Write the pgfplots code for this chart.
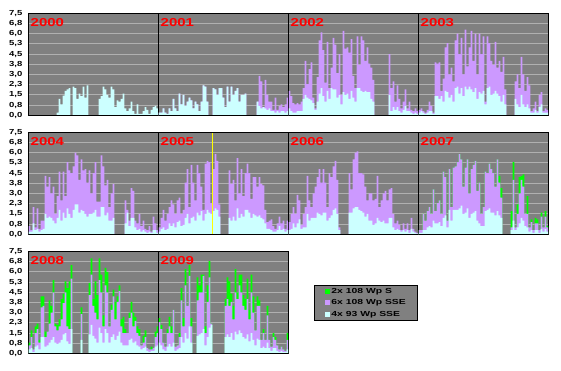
\documentclass[border=0pt]{standalone}
\usepackage{pgfplots}
\pgfplotsset{compat=1.18}
\usepackage{pgfplotstable}
\usepackage{fontspec}
\setmainfont{Liberation Sans}
\newfontfamily\tickfont[FakeStretch=1.3]{Liberation Sans}
\newfontfamily\legfont[FakeStretch=1.42]{Liberation Sans}
\newfontfamily\yearfont[FakeStretch=1.3]{Liberation Sans}

\definecolor{bggray}{HTML}{808080}
\definecolor{gridgray}{HTML}{B0B0B0}
\definecolor{cyanbar}{HTML}{CCFFFF}
\definecolor{lilac}{HTML}{CC99FF}
\definecolor{greenbar}{HTML}{00FF00}
\definecolor{yearred}{HTML}{FF0000}
\definecolor{yel}{HTML}{FFFF00}

\pgfplotsset{
  panel/.style={
    scale only axis, width=130pt, height=102pt, anchor=north west,
    xmin=0, xmax=65, ymin=0, ymax=7.5,
    ytick={0,0.75,1.5,2.25,3,3.75,4.5,5.25,6,6.75,7.5},
    yticklabels={}, xtick=\empty,
    ymajorgrids, grid style={gridgray, line width=1pt},
    axis background/.style={fill=bggray},
    axis line style={black, line width=1pt},
    major tick length=0pt,
  },
  ylabels/.style={
    yticklabels={{0,0},{0,8},{1,5},{2,3},{3,0},{3,8},{4,5},{5,3},{6,0},{6,8},{7,5}},
    yticklabel style={font=\tickfont\bfseries\fontsize{7.3}{8}\selectfont, inner sep=0pt, xshift=-6pt},
  },
  sq/.style={legend image code/.code={\fill[##1, draw=none] (0pt,-2.5pt) rectangle (5pt,2.5pt);}},
  cbar/.style={ybar, bar width=1.7pt, bar shift=0pt, fill=cyanbar, draw=none, sq},
  lbar/.style={ybar, bar width=1.7pt, bar shift=0pt, fill=lilac, draw=none, sq},
  gbar/.style={ybar, bar width=1.7pt, bar shift=0pt, fill=greenbar, draw=none, sq},
}
\tikzset{year/.style={anchor=base west, inner sep=0pt, text=yearred,
  font=\yearfont\bfseries\fontsize{11.5}{12}\selectfont, xshift=2pt, yshift=-13.4pt},
  frame/.style={draw=black, line width=1pt}}

\pgfplotstableread[row sep=\\]{c\\
0\\0\\0\\0\\0\\0\\0\\0\\0\\0\\0\\0\\0\\0\\
0.2\\1.2\\0.8\\1.45\\1.8\\1.9\\2.0\\0\\2.1\\2.0\\1.2\\1.6\\1.4\\2.1\\1.3\\2.2\\
0\\0\\0\\0\\0\\1.2\\1.4\\2.1\\1.9\\1.5\\1.3\\2.1\\1.9\\0.6\\1.1\\1.0\\1.2\\1.6\\
0.5\\0.3\\0.5\\1.0\\0.3\\0.1\\0.8\\0.1\\0.1\\0.3\\0.6\\0.4\\0.1\\0.4\\0.6\\0.7\\0.5\\
}\Tzero

\pgfplotstableread[row sep=\\]{c l\\
0.2 0.2\\0.2 0.2\\0.5 0.5\\0.2 0.2\\0.1 0.1\\0.5 0.5\\0.3 0.3\\1.2 1.2\\0.5 0.5\\0.3 0.3\\
1.6 1.6\\0.8 0.8\\1.5 1.5\\0.7 0.7\\1.0 1.0\\1.3 1.3\\1.1 1.1\\0.5 0.5\\1.0 1.0\\0.8 0.8\\
0.3 0.3\\1.0 1.0\\2.2 2.2\\2.1 2.1\\1.0 1.0\\0 0\\0 0\\2.0 2.0\\1.9 1.9\\1.5 1.5\\
2.0 2.0\\2.0 2.0\\1.3 1.3\\0.6 0.6\\2.1 2.1\\1.0 1.0\\2.1 2.1\\1.5 1.5\\1.8 1.8\\2.0 2.0\\
1.0 1.0\\1.5 1.5\\1.5 1.5\\1.6 1.6\\0 0\\0 0\\0 0\\0 0\\0 0\\1.0 1.0\\
0.7 2.9\\0.5 2.5\\0.6 0.6\\0.5 2.6\\0.4 1.5\\0.5 1.0\\0.3 1.0\\0.3 0.4\\0.2 1.3\\0.3 0.4\\
0.2 0.7\\0.3 0.8\\0.3 0.6\\0.2 0.8\\0.3 1.3\\
}\Tone

\pgfplotstableread[row sep=\\]{c l\\
0.5 1.8\\0.3 1.4\\0.2 0.9\\0.2 0.8\\0.3 0.9\\0.3 0.8\\0.3 1.0\\1.2 2.0\\1.5 4.0\\1.3 2.3\\
1.2 3.4\\1.1 3.9\\0.9 1.3\\0.4 0.5\\1.0 2.8\\1.6 5.5\\2.0 6.1\\1.4 4.8\\1.0 2.4\\1.8 5.4\\
1.2 2.0\\2.0 3.5\\1.9 5.7\\1.9 5.2\\1.3 3.1\\1.5 4.5\\0.8 1.5\\1.7 6.2\\1.5 4.9\\1.6 5.0\\
1.2 4.6\\1.8 5.6\\1.3 2.9\\1.0 2.0\\2.0 5.8\\2.0 3.7\\1.8 5.8\\1.7 5.5\\1.8 4.0\\1.7 5.0\\
1.7 3.8\\1.2 3.5\\1.0 2.6\\0 0\\0 0\\0 0\\0 0\\0 0\\0 0\\0 0\\
1.5 4.5\\0.3 2.0\\0.6 2.5\\0.4 1.0\\0.6 2.2\\0.3 1.2\\0.2 0.5\\0.4 1.0\\0.7 1.9\\0.3 0.5\\
0.3 1.0\\0.2 0.4\\0.1 0.3\\0.2 0.5\\0.1 0.3\\
}\Ttwo

\pgfplotstableread[row sep=\\]{c l\\
0.2 0.4\\0.3 0.5\\0.2 0.3\\0.1 0.2\\0.2 0.4\\0.3 1.0\\0.3 0.7\\0.1 0.2\\1.4 3.9\\1.4 3.8\\
1.2 3.9\\1.4 1.8\\1.0 2.7\\1.8 5.0\\1.7 5.3\\1.3 3.0\\1.5 3.5\\1.0 2.5\\2.0 5.5\\2.1 6.0\\
1.6 4.5\\2.0 5.7\\1.4 3.0\\2.1 6.3\\1.9 3.6\\2.1 5.0\\1.9 6.2\\1.7 4.0\\2.0 6.0\\1.2 3.0\\
1.7 6.0\\1.6 4.5\\1.8 5.8\\0.8 1.0\\2.0 5.8\\2.1 5.3\\1.5 4.0\\1.6 3.7\\1.8 5.4\\1.6 3.5\\
1.4 4.0\\1.0 3.2\\1.5 4.3\\0.8 1.9\\0 0\\0 0\\0 0\\0 0\\1.2 2.5\\0.8 3.0\\
0.6 2.0\\1.5 4.3\\0.8 3.0\\0.6 1.8\\0.8 2.8\\0.5 2.2\\0.2 0.3\\0.2 0.5\\0.4 1.0\\0.2 0.3\\
0.6 1.5\\0.8 1.7\\0.2 0.3\\0.2 0.5\\0.2 0.4\\
}\Tthree

\pgfplotstableread[row sep=\\]{c l\\
0.2 0.6\\0.2 0.3\\0.8 2.0\\0.3 0.5\\0.4 1.9\\0.2 0.4\\0.3 1.0\\0.4 1.0\\1.5 4.3\\1.2 3.5\\
1.3 4.2\\1.2 3.0\\1.0 3.5\\0.8 1.5\\1.2 2.8\\1.8 4.6\\1.0 2.5\\1.6 4.6\\1.2 2.8\\1.9 5.3\\
1.5 4.7\\1.2 4.5\\1.8 5.0\\2.2 6.0\\2.2 5.8\\1.6 4.0\\1.8 5.5\\1.7 4.7\\1.5 4.8\\1.3 3.8\\
1.5 4.7\\1.5 3.0\\1.6 4.5\\1.8 5.3\\1.3 2.4\\1.3 2.4\\2.0 5.8\\2.0 5.0\\1.4 3.6\\1.6 4.0\\
1.0 2.0\\1.0 3.0\\1.2 3.7\\0 0\\0 0\\0 0\\0 0\\0 0\\0.8 2.5\\1.6 1.8\\
0.6 1.0\\1.2 3.4\\1.2 3.2\\0.5 1.0\\0.3 0.8\\0.4 1.5\\0.2 0.6\\0.3 1.0\\0.2 0.4\\0.1 0.3\\
0.2 0.6\\0.1 0.2\\0.3 1.3\\0.3 0.8\\0.1 0.3\\
}\Tfour

\pgfplotstableread[row sep=\\]{c l\\
0.2 0.5\\0.4 1.2\\0.5 1.8\\0.3 1.0\\0.4 1.5\\0.8 2.0\\0.6 2.5\\0.8 2.2\\0.5 1.5\\0.9 2.5\\
1.0 2.7\\0.6 1.5\\0.7 1.8\\1.2 3.8\\1.5 4.8\\0.8 2.0\\1.2 5.1\\1.3 3.8\\1.0 2.5\\1.6 5.1\\
1.4 4.5\\1.7 3.5\\1.0 1.8\\1.5 5.2\\1.8 5.4\\1.6 5.3\\1.5 2.3\\1.7 4.8\\1.9 5.9\\1.8 5.4\\
1.3 2.2\\0 0\\0 0\\0 0\\0 0\\1.2 4.7\\1.0 3.7\\1.3 4.0\\1.0 2.5\\1.9 5.6\\
1.2 3.0\\1.5 4.8\\1.3 2.8\\1.8 4.5\\1.8 5.2\\1.6 4.5\\1.2 2.6\\1.5 4.2\\1.4 4.2\\1.3 3.5\\
1.4 4.2\\1.2 3.7\\1.1 3.6\\0.8 1.8\\0.4 0.9\\0.4 1.0\\0.3 1.1\\0.2 0.6\\0.2 0.4\\0.3 0.8\\
0.6 1.3\\0.3 0.8\\0.4 1.0\\0.2 0.4\\0.3 1.0\\
}\Tfive

\pgfplotstableread[row sep=\\]{c l\\
0.3 0.9\\0.4 1.5\\0.8 2.0\\0.5 1.5\\0.8 2.9\\1.1 2.5\\0.4 0.7\\0.5 1.5\\0.5 2.0\\1.5 4.3\\
1.0 2.5\\1.2 2.0\\1.2 3.0\\1.2 3.5\\1.6 4.2\\1.5 4.8\\1.4 3.8\\1.6 4.8\\1.6 3.8\\1.0 2.0\\
1.2 4.5\\1.4 4.2\\1.8 5.0\\1.9 5.4\\1.5 4.0\\0.3 0.5\\0 0\\0 0\\0 0\\0 0\\
1.6 4.5\\1.6 3.3\\1.9 5.5\\2.0 6.0\\2.0 6.1\\1.8 4.5\\1.7 4.5\\1.6 4.4\\1.3 3.5\\1.5 2.5\\
1.0 3.0\\1.0 3.0\\0.7 2.5\\0.8 2.6\\1.2 4.3\\1.0 2.0\\0.9 2.5\\1.0 3.0\\0.8 3.2\\0.8 2.5\\
1.2 3.3\\1.2 3.4\\0.5 1.5\\0.3 0.8\\0.4 1.0\\0.3 0.7\\0.2 0.3\\0.3 0.8\\0.2 0.4\\0.3 0.8\\
0.1 0.3\\0.4 1.2\\0.2 0.4\\0.1 0.2\\0.05 0.1\\
}\Tsix

\pgfplotstableread[row sep=\\]{c l g\\
0.1 0.3 0.3\\0.1 0.3 0.3\\0.3 1.5 1.5\\0.3 1.0 1.0\\0.5 1.7 1.7\\0.6 2.0 2.0\\0.5 1.5 1.5\\1.0 3.3 3.3\\0.8 1.7 1.7\\0.8 2.3 2.3\\
0.9 2.5 2.5\\0.6 1.5 1.5\\1.2 4.6 4.6\\1.4 4.2 4.2\\0.5 1.0 1.0\\1.8 4.8 4.8\\1.0 2.0 2.0\\1.8 4.9 4.9\\1.8 5.0 5.0\\1.8 5.3 5.3\\
1.9 5.9 5.9\\2.1 5.5 5.5\\1.5 3.5 3.5\\1.6 4.9 4.9\\1.9 5.5 5.5\\1.2 3.0 3.0\\1.5 4.8 4.8\\1.6 5.1 5.1\\1.7 5.4 5.4\\1.0 3.2 3.2\\
0.8 3.8 3.8\\0.6 1.5 1.5\\0.6 2.0 2.0\\1.7 4.6 4.6\\1.8 4.5 4.5\\1.9 5.2 5.2\\1.6 4.8 4.8\\1.6 4.5 4.5\\1.4 3.5 3.5\\1.7 5.5 5.5\\
1.4 3.8 4.3\\1.2 2.7 3.4\\0 0 0\\0 0 0\\0 0 0\\0 0 0\\0.3 0.5 1.7\\1.0 4.0 5.3\\0.3 0.5 0.5\\0.5 1.5 2.2\\
0.8 3.0 4.2\\1.2 4.0 4.3\\1.0 3.5 4.4\\0.6 1.5 1.5\\0.5 1.5 2.8\\0.2 0.5 0.5\\0.3 0.9 1.1\\0.1 0.3 0.3\\0.3 0.8 1.2\\0.3 0.8 1.1\\
0.1 0.3 0.3\\0.4 1.3 1.6\\0.2 0.5 0.5\\0.4 1.3 1.7\\0.2 0.5 0.6\\
}\Tseven

\pgfplotstableread[row sep=\\]{c l g\\
0.3 0.6 0.8\\0.4 1.2 1.7\\0.1 0.3 0.3\\0.5 1.5 2.0\\0.6 1.8 2.2\\0.3 0.8 1.0\\1.2 3.4 4.2\\1.2 3.5 4.2\\0.5 1.2 1.6\\0.6 1.6 1.6\\
0.8 2.2 3.9\\1.0 3.0 3.5\\1.2 4.5 5.4\\0.8 2.0 2.2\\0.7 1.7 2.1\\0.8 2.0 2.5\\1.0 2.5 4.0\\1.4 3.7 4.4\\1.5 4.5 5.3\\0.9 2.0 4.8\\
0.7 1.8 5.3\\1.8 5.5 6.5\\0 0 0\\0 0 0\\0 0 0\\0 0 0\\1.0 2.9 3.4\\0 0 0\\0 0 0\\0 0 0\\
1.4 4.3 5.2\\2.1 5.8 7.0\\1.3 3.5 4.0\\1.1 3.0 5.3\\0.8 2.5 4.3\\1.9 5.4 7.0\\1.5 4.5 5.8\\0.8 2.0 2.8\\1.8 5.0 6.3\\1.5 4.5 6.0\\
0.8 2.0 2.0\\1.2 3.2 3.6\\1.4 4.2 4.7\\1.0 2.5 3.8\\1.3 3.8 4.2\\1.6 4.6 5.0\\0.8 2.0 2.5\\0.6 1.5 2.7\\0.6 1.5 1.8\\0.6 1.5 1.5\\
1.0 2.6 3.0\\1.1 3.0 3.8\\0.8 2.0 3.0\\0.9 2.4 2.7\\0.6 1.5 2.0\\0.5 1.3 1.8\\0.3 0.6 0.6\\0.4 0.8 1.3\\0.5 1.2 1.7\\0.2 0.4 0.4\\
0.1 0.3 0.3\\0.2 0.3 0.5\\0.2 0.4 0.4\\0.5 1.2 1.6\\0.6 1.5 2.0\\
}\Teight

\pgfplotstableread[row sep=\\]{c l g\\
0.8 2.3 2.6\\0.6 1.8 2.1\\0.3 0.8 0.8\\0.2 0.5 0.5\\0.5 1.5 1.8\\0.7 2.0 2.7\\0.5 1.5 2.0\\0.8 3.2 3.2\\0.2 0.5 0.5\\0.3 0.6 0.6\\
0.4 1.2 1.5\\1.2 3.9 4.8\\0.8 2.0 2.6\\1.5 5.0 6.2\\1.1 3.5 3.5\\2.0 5.7 6.5\\0.8 2.0 2.6\\0 0 0\\0 0 0\\1.3 3.9 5.6\\
1.4 4.5 5.0\\1.5 4.5 5.8\\1.8 5.7 5.8\\0.6 1.5 2.0\\1.2 3.8 5.0\\1.9 5.6 6.8\\2.1 2.2 2.2\\0 0 0\\0 0 0\\0 0 0\\
0 0 0\\0 0 0\\0 0 0\\1.2 3.5 4.0\\1.4 4.0 5.6\\1.2 3.5 5.3\\1.5 3.8 4.4\\1.0 2.5 3.5\\1.6 4.5 6.2\\1.4 4.0 4.5\\
1.7 5.0 5.8\\1.5 4.5 5.8\\1.2 3.5 4.3\\1.1 3.2 4.0\\1.4 4.0 5.5\\0.9 2.5 3.2\\1.5 4.5 5.8\\1.0 3.0 4.2\\0.6 1.7 1.7\\1.1 3.5 4.2\\
1.0 3.5 3.9\\0.4 1.0 1.0\\0.5 1.5 1.8\\0.4 1.0 1.0\\0.8 2.8 3.5\\0.4 1.0 1.0\\0.2 0.5 0.5\\0.4 1.2 1.5\\0.4 1.0 1.2\\0.2 0.6 0.6\\
0.1 0.3 0.3\\0.2 0.5 0.5\\0.1 0.3 0.3\\0.1 0.2 0.2\\0.3 1.0 1.5\\
}\Tnine

\begin{document}
\begin{tikzpicture}
\path[use as bounding box] (0pt,0pt) rectangle (561pt,-371pt);

% Row 1
\begin{axis}[panel, ylabels, at={(28.5pt,-13.3pt)}]
\addplot[cbar] table[x expr=\coordindex+0.5, y=c] {\Tzero};
\draw[frame] (rel axis cs:0,0) rectangle (rel axis cs:1,1);
\node[year] at (rel axis cs:0,1) {2000};
\end{axis}
\begin{axis}[panel, at={(158.5pt,-13.3pt)}]
\addplot[lbar] table[x expr=\coordindex+0.5, y=l] {\Tone};
\addplot[cbar] table[x expr=\coordindex+0.5, y=c] {\Tone};
\draw[frame] (rel axis cs:0,0) rectangle (rel axis cs:1,1);
\node[year] at (rel axis cs:0,1) {2001};
\end{axis}
\begin{axis}[panel, at={(288.5pt,-13.3pt)}]
\addplot[lbar] table[x expr=\coordindex+0.5, y=l] {\Ttwo};
\addplot[cbar] table[x expr=\coordindex+0.5, y=c] {\Ttwo};
\draw[frame] (rel axis cs:0,0) rectangle (rel axis cs:1,1);
\node[year] at (rel axis cs:0,1) {2002};
\end{axis}
\begin{axis}[panel, at={(418.5pt,-13.3pt)}]
\addplot[lbar] table[x expr=\coordindex+0.5, y=l] {\Tthree};
\addplot[cbar] table[x expr=\coordindex+0.5, y=c] {\Tthree};
\draw[frame] (rel axis cs:0,0) rectangle (rel axis cs:1,1);
\node[year] at (rel axis cs:0,1) {2003};
\end{axis}

% Row 2
\begin{axis}[panel, ylabels, at={(28.5pt,-132.3pt)}]
\addplot[lbar] table[x expr=\coordindex+0.5, y=l] {\Tfour};
\addplot[cbar] table[x expr=\coordindex+0.5, y=c] {\Tfour};
\draw[frame] (rel axis cs:0,0) rectangle (rel axis cs:1,1);
\node[year] at (rel axis cs:0,1) {2004};
\end{axis}
\begin{axis}[panel, at={(158.5pt,-132.3pt)}]
\addplot[lbar] table[x expr=\coordindex+0.5, y=l] {\Tfive};
\addplot[cbar] table[x expr=\coordindex+0.5, y=c] {\Tfive};
\addplot[yel, line width=1pt, no marks] coordinates {(27,0) (27,7.5)};
\draw[frame] (rel axis cs:0,0) rectangle (rel axis cs:1,1);
\node[year] at (rel axis cs:0,1) {2005};
\end{axis}
\begin{axis}[panel, at={(288.5pt,-132.3pt)}]
\addplot[lbar] table[x expr=\coordindex+0.5, y=l] {\Tsix};
\addplot[cbar] table[x expr=\coordindex+0.5, y=c] {\Tsix};
\draw[frame] (rel axis cs:0,0) rectangle (rel axis cs:1,1);
\node[year] at (rel axis cs:0,1) {2006};
\end{axis}
\begin{axis}[panel, at={(418.5pt,-132.3pt)}]
\addplot[gbar] table[x expr=\coordindex+0.5, y=g] {\Tseven};
\addplot[lbar] table[x expr=\coordindex+0.5, y=l] {\Tseven};
\addplot[cbar] table[x expr=\coordindex+0.5, y=c] {\Tseven};
\draw[frame] (rel axis cs:0,0) rectangle (rel axis cs:1,1);
\node[year] at (rel axis cs:0,1) {2007};
\end{axis}

% Row 3
\begin{axis}[panel, ylabels, at={(28.5pt,-251.5pt)}]
\addplot[gbar] table[x expr=\coordindex+0.5, y=g] {\Teight};
\addplot[lbar] table[x expr=\coordindex+0.5, y=l] {\Teight};
\addplot[cbar] table[x expr=\coordindex+0.5, y=c] {\Teight};
\draw[frame] (rel axis cs:0,0) rectangle (rel axis cs:1,1);
\node[year] at (rel axis cs:0,1) {2008};
\end{axis}
\begin{axis}[panel, at={(158.5pt,-251.5pt)},
  legend style={at={(1.196,0.676)}, anchor=north west, fill=bggray, draw=black, line width=1pt,
    font=\legfont\bfseries\fontsize{7.3}{8}\selectfont, inner xsep=11pt, inner ysep=0.5pt,
    row sep=0.5pt, legend cell align=left,
    nodes={text height=5.5pt, text depth=1.5pt, inner ysep=2pt, inner xsep=1pt},
    /tikz/every even column/.append style={column sep=0pt}},
  ]
\addplot[gbar] table[x expr=\coordindex+0.5, y=g] {\Tnine};
\addplot[lbar] table[x expr=\coordindex+0.5, y=l] {\Tnine};
\addplot[cbar] table[x expr=\coordindex+0.5, y=c] {\Tnine};
\draw[frame] (rel axis cs:0,0) rectangle (rel axis cs:1,1);
\node[year] at (rel axis cs:0,1) {2009};
\legend{2x 108 Wp S, 6x 108 Wp SSE, 4x 93 Wp SSE}
\end{axis}
\end{tikzpicture}
\end{document}
